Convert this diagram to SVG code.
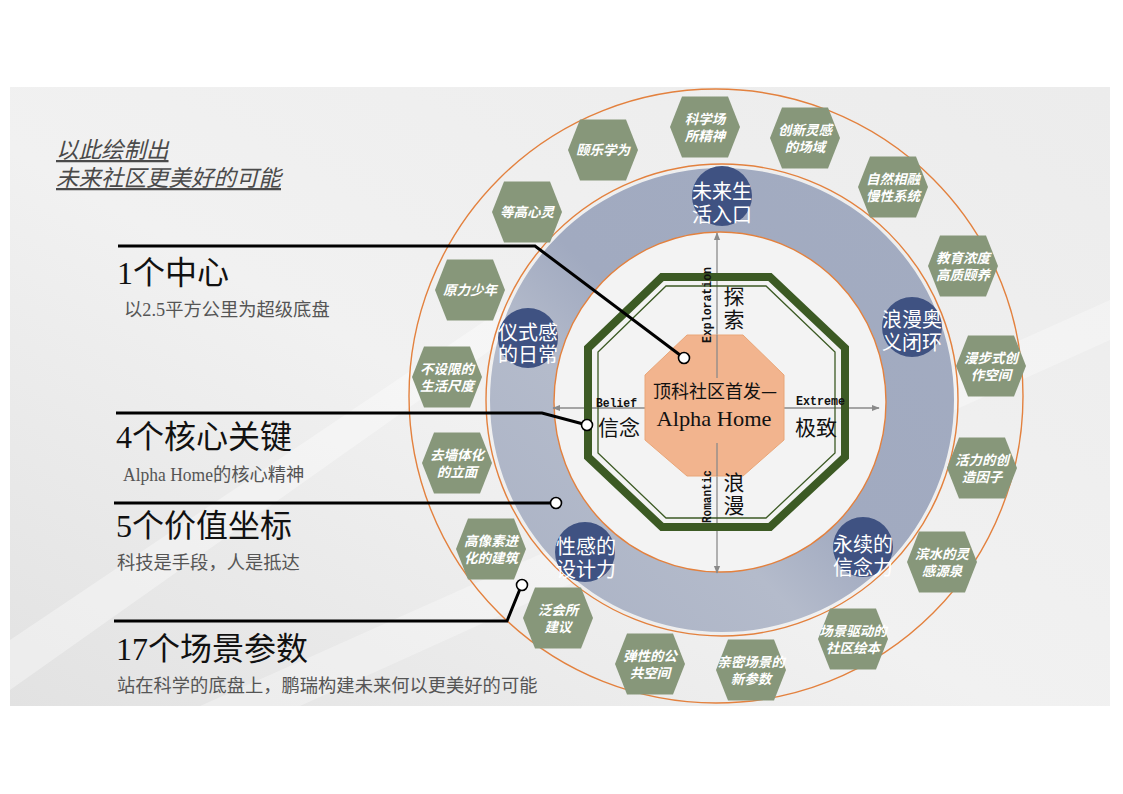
<svg xmlns="http://www.w3.org/2000/svg" xmlns:xlink="http://www.w3.org/1999/xlink" width="1123" height="794" viewBox="0 0 1123 794">
<style>
.hex{fill:#87977a}
.ht{fill:#fff;font-family:"Noto Sans CJK SC","Liberation Sans",sans-serif;font-size:13.5px;font-weight:bold;font-style:italic;text-anchor:middle}
.bc{fill:#3f5282}
.bt{fill:#fff;font-family:"Noto Sans CJK SC",sans-serif;font-size:20px;text-anchor:middle}
.orng{fill:none;stroke:#e3813e;stroke-width:1.4}
.lead{fill:none;stroke:#000;stroke-width:3}
.dot{fill:#fff;stroke:#000;stroke-width:1.6}
.axis{stroke:#8a8a8a;stroke-width:1.3;fill:none}
.ax{font-family:"Liberation Mono",monospace;font-weight:bold;font-size:12px;fill:#111}
.cj{font-family:"Noto Sans CJK SC",sans-serif;font-size:21px;fill:#111;text-anchor:middle}
.cv{font-family:"Noto Sans CJK SC",sans-serif;font-size:21px;fill:#111;writing-mode:vertical-rl;letter-spacing:2px}
.h1{font-family:"Liberation Serif","Noto Sans CJK SC",serif;font-size:32px;fill:#111}
.sub{font-family:"Liberation Serif","Noto Sans CJK SC",serif;font-size:18.3px;fill:#555}
.ttl{font-family:"Noto Sans CJK SC",sans-serif;font-size:22.5px;font-style:italic;fill:#4a4a4a;text-decoration:underline}
</style>
<defs>
<linearGradient id="bg" x1="0" y1="1" x2="1" y2="0">
<stop offset="0" stop-color="#e2e2e2"/>
<stop offset="0.45" stop-color="#f1f1f1"/>
<stop offset="1" stop-color="#ececec"/>
</linearGradient>
<linearGradient id="band" x1="0" y1="1" x2="1" y2="0">
<stop offset="0" stop-color="#a9b1c4"/>
<stop offset="0.35" stop-color="#b4bbcb"/>
<stop offset="0.5" stop-color="#a1aac0"/>
<stop offset="1" stop-color="#a3acc1"/>
</linearGradient>
<polygon id="hx" points="-35,0 -23,-30.5 23,-30.5 35,0 23,30.5 -23,30.5"/>
<marker id="ar" viewBox="0 0 10 10" refX="9" refY="5" markerWidth="6" markerHeight="6" orient="auto-start-reverse">
<path d="M0,1 L10,5 L0,9 z" fill="#8a8a8a"/>
</marker>
</defs>

<rect x="0" y="0" width="1123" height="794" fill="#fff"/>
<rect x="10" y="87" width="1100" height="619" fill="url(#bg)"/>
<polygon points="10,640 620,230 660,230 10,690" fill="#fff" opacity="0.35"/>
<polygon points="200,706 1110,300 1110,340 300,706" fill="#fff" opacity="0.3"/>

<g id="rings">
<circle class="orng" cx="716" cy="396" r="307"/>
<circle class="orng" cx="722" cy="400" r="236"/>
<path d="M490,400 a232,232 0 1,0 464,0 a232,232 0 1,0 -464,0 Z M554,402 a166,170 0 1,0 332,0 a166,170 0 1,0 -332,0 Z" fill="url(#band)" fill-rule="evenodd"/>
<ellipse cx="720" cy="402" rx="166" ry="170" fill="#f3f3f3" stroke="#e3813e" stroke-width="1.4"/>
</g>

<g id="axes">
<line class="axis" x1="553" y1="408" x2="879" y2="408" marker-start="url(#ar)" marker-end="url(#ar)"/>
<line class="axis" x1="717" y1="233" x2="717" y2="573" marker-start="url(#ar)" marker-end="url(#ar)"/>
</g>

<g id="frame">
<polygon points="662,277 770,277 845,348 845,457 770,527 662,527 588,457 588,348" fill="none" stroke="#3c5a24" stroke-width="8"/>
<polygon points="666,286 766,286 835,352 835,453 766,518 666,518 598,453 598,352" fill="none" stroke="#3c5a24" stroke-width="1.3"/>
</g>

<g id="center">
<polygon points="687,335 743,335 784,375 784,440 743,476 687,476 645,440 645,375" fill="#f2b48e" stroke="#e9a678" stroke-width="1"/>
<line class="axis" x1="717" y1="335" x2="717" y2="378"/>
<line class="axis" x1="717" y1="443" x2="717" y2="476"/>
<text x="715" y="398" font-family="Noto Sans CJK SC,sans-serif" font-size="18" fill="#111" text-anchor="middle">顶科社区首发—</text>
<text x="714" y="426" font-family="Liberation Serif,serif" font-size="21" fill="#111" text-anchor="middle" textLength="115" lengthAdjust="spacingAndGlyphs">Alpha Home</text>
</g>

<g id="axis-labels">
<text class="ax" transform="translate(711,343) rotate(-90)" textLength="76" lengthAdjust="spacingAndGlyphs">Exploration</text>
<text class="cv" x="734" y="286">探索</text>
<text class="ax" transform="translate(711,523) rotate(-90)" textLength="53" lengthAdjust="spacingAndGlyphs">Romantic</text>
<text class="cv" x="734" y="472">浪漫</text>
<text class="ax" x="596" y="407" textLength="41" lengthAdjust="spacingAndGlyphs">Belief</text>
<text class="cj" x="619" y="435">信念</text>
<text class="ax" x="796" y="405" textLength="49" lengthAdjust="spacingAndGlyphs">Extreme</text>
<text class="cj" x="816" y="435">极致</text>
</g>

<g id="c-future"><circle class="bc" cx="722" cy="196" r="30"/><text class="bt"><tspan x="722" y="199">未来生</tspan><tspan x="722" y="222">活入口</tspan></text></g>
<g id="c-romance"><circle class="bc" cx="912" cy="327" r="30"/><text class="bt"><tspan x="912" y="327">浪漫奥</tspan><tspan x="912" y="350">义闭环</tspan></text></g>
<g id="c-belief"><circle class="bc" cx="863" cy="547" r="30"/><text class="bt"><tspan x="863" y="552">永续的</tspan><tspan x="863" y="575">信念力</tspan></text></g>
<g id="c-design"><circle class="bc" cx="585" cy="552" r="30"/><text class="bt"><tspan x="586" y="554">性感的</tspan><tspan x="586" y="577">设计力</tspan></text></g>
<g id="c-ritual"><circle class="bc" cx="528" cy="338" r="30"/><text class="bt"><tspan x="528" y="340">仪式感</tspan><tspan x="528" y="362">的日常</tspan></text></g>

<g id="h1"><use href="#hx" class="hex" x="603" y="150"/><text class="ht" x="603" y="155">颐乐学为</text></g>
<g id="h2"><use href="#hx" class="hex" x="705" y="127"/><text class="ht"><tspan x="705" y="124">科学场</tspan><tspan x="705" y="141">所精神</tspan></text></g>
<g id="h3"><use href="#hx" class="hex" x="805" y="138"/><text class="ht"><tspan x="805" y="135">创新灵感</tspan><tspan x="805" y="152">的场域</tspan></text></g>
<g id="h4"><use href="#hx" class="hex" x="893" y="187"/><text class="ht"><tspan x="893" y="184">自然相融</tspan><tspan x="893" y="201">慢性系统</tspan></text></g>
<g id="h5"><use href="#hx" class="hex" x="963" y="266"/><text class="ht"><tspan x="963" y="263">教育浓度</tspan><tspan x="963" y="280">高质颐养</tspan></text></g>
<g id="h6"><use href="#hx" class="hex" x="991" y="366"/><text class="ht"><tspan x="991" y="363">漫步式创</tspan><tspan x="991" y="380">作空间</tspan></text></g>
<g id="h7"><use href="#hx" class="hex" x="982" y="468"/><text class="ht"><tspan x="982" y="465">活力的创</tspan><tspan x="982" y="482">造因子</tspan></text></g>
<g id="h8"><use href="#hx" class="hex" x="942" y="562"/><text class="ht"><tspan x="942" y="559">滨水的灵</tspan><tspan x="942" y="576">感源泉</tspan></text></g>
<g id="h9"><use href="#hx" class="hex" x="853" y="639"/><text class="ht"><tspan x="853" y="636">场景驱动的</tspan><tspan x="853" y="653">社区绘本</tspan></text></g>
<g id="h10"><use href="#hx" class="hex" x="751" y="670"/><text class="ht"><tspan x="751" y="667">亲密场景的</tspan><tspan x="751" y="684">新参数</tspan></text></g>
<g id="h11"><use href="#hx" class="hex" x="650" y="664"/><text class="ht"><tspan x="650" y="661">弹性的公</tspan><tspan x="650" y="678">共空间</tspan></text></g>
<g id="h12"><use href="#hx" class="hex" x="558" y="618"/><text class="ht"><tspan x="558" y="615">泛会所</tspan><tspan x="558" y="632">建议</tspan></text></g>
<g id="h13"><use href="#hx" class="hex" x="491" y="549"/><text class="ht"><tspan x="491" y="546">高像素进</tspan><tspan x="491" y="563">化的建筑</tspan></text></g>
<g id="h14"><use href="#hx" class="hex" x="457" y="463"/><text class="ht"><tspan x="457" y="460">去墙体化</tspan><tspan x="457" y="477">的立面</tspan></text></g>
<g id="h15"><use href="#hx" class="hex" x="447" y="377"/><text class="ht"><tspan x="447" y="374">不设限的</tspan><tspan x="447" y="391">生活尺度</tspan></text></g>
<g id="h16"><use href="#hx" class="hex" x="470" y="290"/><text class="ht" x="470" y="295">原力少年</text></g>
<g id="h17"><use href="#hx" class="hex" x="527" y="212"/><text class="ht" x="527" y="217">等高心灵</text></g>

<g id="title">
<text class="ttl"><tspan x="56" y="158">以此绘制出</tspan><tspan x="56" y="186">未来社区更美好的可能</tspan></text>
</g>

<g id="connectors">
<polyline class="lead" points="118,246 535,246 684,358"/>
<circle class="dot" cx="684" cy="358" r="5.5"/>
<polyline class="lead" points="116,413 542,413 587,425"/>
<circle class="dot" cx="587" cy="425" r="5.5"/>
<polyline class="lead" points="114,503 551,503"/>
<circle class="dot" cx="556" cy="503" r="5.5"/>
<polyline class="lead" points="114,621 507,621 520,589"/>
<circle class="dot" cx="522" cy="585" r="5.5"/>
</g>

<g id="item1">
<text class="h1" x="117" y="284">1个中心</text>
<text class="sub" x="124" y="316" font-size="17">以2.5平方公里为超级底盘</text>
</g>
<g id="item4">
<text class="h1" x="116" y="448">4个核心关键</text>
<text class="sub" x="123" y="481"><tspan textLength="90" lengthAdjust="spacingAndGlyphs">Alpha Home</tspan><tspan>的核心精神</tspan></text>
</g>
<g id="item5">
<text class="h1" x="116" y="537">5个价值坐标</text>
<text class="sub" x="117" y="569">科技是手段，人是抵达</text>
</g>
<g id="item17">
<text class="h1" x="116" y="660">17个场景参数</text>
<text class="sub" x="117" y="692">站在科学的底盘上，鹏瑞构建未来何以更美好的可能</text>
</g>
</svg>
